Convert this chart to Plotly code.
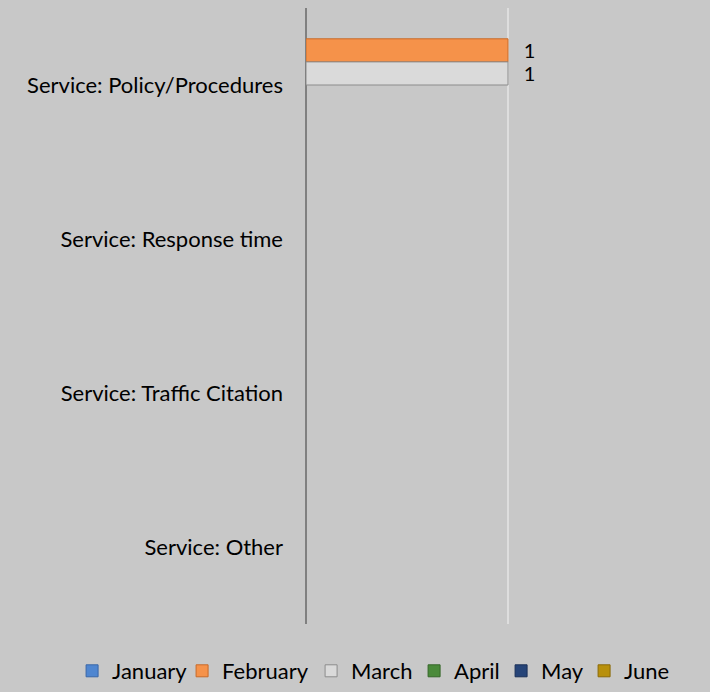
import plotly.graph_objects as go

# Complaint categories (top to bottom) and monthly counts
categories = [
    "Service: Policy/Procedures",
    "Service: Response time",
    "Service: Traffic Citation",
    "Service: Other",
]
months = ["January", "February", "March", "April", "May", "June"]
counts = {
    "January":  [None, None, None, None],
    "February": [1, None, None, None],
    "March":    [1, None, None, None],
    "April":    [None, None, None, None],
    "May":      [None, None, None, None],
    "June":     [None, None, None, None],
}
x_range = [0, 2]
x_tick_step = 1

fill_colors = {
    "January":  "#4F86D0",
    "February": "#F5924A",
    "March":    "#DADADA",
    "April":    "#4A8A3A",
    "May":      "#264478",
    "June":     "#B8900C",
}
line_colors = {
    "January":  "#3A67A8",
    "February": "#C86A28",
    "March":    "#8C8C8C",
    "April":    "#356628",
    "May":      "#1A3058",
    "June":     "#8A6A08",
}
# width reserved for each legend label (px), keeps the legend row compact
legend_widths = {
    "January": 65, "February": 84, "March": 58,
    "April": 42, "May": 38, "June": 43,
}

FONT = "Lato"
BG = "#C8C8C8"

fig = go.Figure()
for m in months:
    fig.add_trace(go.Bar(
        name=m,
        y=categories,
        x=counts[m],
        orientation="h",
        marker=dict(color=fill_colors[m],
                    line=dict(color=line_colors[m], width=1)),
        texttemplate="\u00a0\u00a0\u2009%{x}",
        textposition="outside",
        textfont=dict(family=FONT, size=20, color="#000000"),
        constraintext="none",
        cliponaxis=False,
        legendwidth=legend_widths[m],
        hoverinfo="skip",
    ))

fig.update_layout(
    width=710,
    height=692,
    margin=dict(l=306, r=0, t=8, b=68),
    paper_bgcolor=BG,
    plot_bgcolor=BG,
    barmode="group",
    bargap=0.1,
    bargroupgap=0,
    font=dict(family=FONT, size=22, color="#000000"),
    showlegend=True,
    legend=dict(
        orientation="h",
        xref="paper", yref="paper",
        x=-0.579, xanchor="left",
        y=-0.1104, yanchor="bottom",
        font=dict(family=FONT, size=22, color="#000000"),
        bgcolor="rgba(0,0,0,0)",
        itemclick=False,
        itemdoubleclick=False,
    ),
    xaxis=dict(
        range=x_range,
        dtick=x_tick_step,
        showticklabels=False,
        showgrid=True,
        gridcolor="#DEDEDE",
        gridwidth=2,
        zeroline=True,
        zerolinecolor="#808080",
        zerolinewidth=2,
        showline=False,
        fixedrange=True,
    ),
    yaxis=dict(
        autorange="reversed",
        showgrid=False,
        showline=False,
        ticks="",
        ticklabelstandoff=22,
        tickfont=dict(family=FONT, size=22, color="#000000"),
        fixedrange=True,
    ),
)

fig.write_html("out.html", config={"displayModeBar": False})
